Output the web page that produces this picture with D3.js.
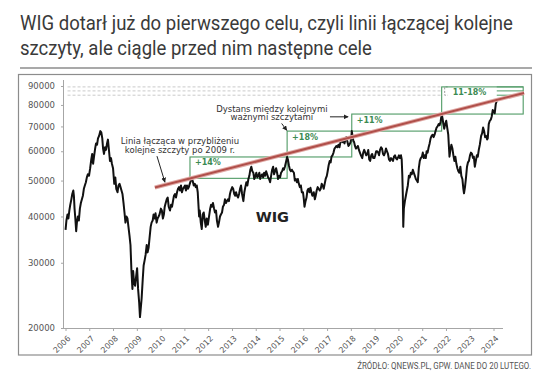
<!DOCTYPE html>
<html><head><meta charset="utf-8">
<script src="https://cdn.jsdelivr.net/npm/d3@7"></script>
<style>
body{margin:0;background:#fff;}
svg{display:block;}
</style></head><body>
<svg id="c" width="536" height="379"></svg>
<script>
const titleLines = ["WIG dotarł już do pierwszego celu, czyli linii łączącej kolejne", "szczyty, ale ciągle przed nim następne cele"];
const sourceText = "ŹRÓDŁO: QNEWS.PL, GPW. DANE DO 20 LUTEGO.";
const seriesName = "WIG";

const wigDates = [
"2006-01-02","2006-01-15","2006-02-01","2006-02-15","2006-03-01","2006-03-15","2006-04-01","2006-04-15","2006-05-01","2006-05-10","2006-05-20","2006-06-01","2006-06-14","2006-06-25","2006-07-10","2006-07-25","2006-08-10","2006-08-25","2006-09-10","2006-09-25","2006-10-10","2006-10-25","2006-11-10","2006-11-25","2006-12-10","2006-12-28",
"2007-01-15","2007-02-01","2007-02-15","2007-03-01","2007-03-15","2007-04-01","2007-04-15","2007-05-01","2007-05-15","2007-06-01","2007-06-20","2007-07-05","2007-07-20","2007-08-01","2007-08-15","2007-09-01","2007-09-15","2007-10-01","2007-10-15","2007-11-01","2007-11-15","2007-12-01","2007-12-15",
"2008-01-01","2008-01-20","2008-02-05","2008-02-20","2008-03-10","2008-03-25","2008-04-10","2008-04-25","2008-05-10","2008-05-25","2008-06-10","2008-06-25","2008-07-10","2008-07-25","2008-08-10","2008-08-25","2008-09-10","2008-09-25","2008-10-10","2008-10-25","2008-11-05","2008-11-20","2008-12-05","2008-12-20",
"2009-01-05","2009-01-20","2009-02-05","2009-02-18","2009-03-01","2009-03-15","2009-04-01","2009-04-15","2009-05-01","2009-05-15","2009-06-01","2009-06-15","2009-07-01","2009-07-15","2009-08-01","2009-08-15","2009-09-01","2009-09-15","2009-10-01","2009-10-15","2009-11-01","2009-11-15","2009-12-01","2009-12-15",
"2010-01-05","2010-01-20","2010-02-05","2010-02-20","2010-03-05","2010-03-20","2010-04-05","2010-04-20","2010-05-05","2010-05-25","2010-06-10","2010-06-25","2010-07-10","2010-07-25","2010-08-10","2010-08-25","2010-09-10","2010-09-25","2010-10-10","2010-10-25","2010-11-10","2010-11-25","2010-12-10","2010-12-28",
"2011-01-10","2011-01-25","2011-02-10","2011-02-25","2011-03-10","2011-03-25","2011-04-10","2011-04-25","2011-05-10","2011-05-25","2011-06-10","2011-06-25","2011-07-10","2011-07-25","2011-08-05","2011-08-15","2011-08-25","2011-09-10","2011-09-25","2011-10-10","2011-10-25","2011-11-10","2011-11-25","2011-12-10","2011-12-28",
"2012-01-15","2012-02-01","2012-02-15","2012-03-01","2012-03-15","2012-04-01","2012-04-15","2012-05-01","2012-05-15","2012-06-01","2012-06-15","2012-07-01","2012-07-15","2012-08-01","2012-08-15","2012-09-01","2012-09-15","2012-10-01","2012-10-15","2012-11-01","2012-11-15","2012-12-01","2012-12-15",
"2013-01-05","2013-01-20","2013-02-05","2013-02-20","2013-03-05","2013-03-20","2013-04-05","2013-04-20","2013-05-05","2013-05-20","2013-06-05","2013-06-25","2013-07-10","2013-07-25","2013-08-10","2013-08-25","2013-09-10","2013-09-25","2013-10-10","2013-10-25","2013-11-10","2013-11-25","2013-12-10","2013-12-28",
"2014-01-10","2014-01-25","2014-02-10","2014-02-25","2014-03-10","2014-03-25","2014-04-10","2014-04-25","2014-05-10","2014-05-25","2014-06-10","2014-06-25","2014-07-10","2014-07-25","2014-08-10","2014-08-25","2014-09-10","2014-09-25","2014-10-10","2014-10-25","2014-11-10","2014-11-25","2014-12-10","2014-12-28",
"2015-01-10","2015-01-25","2015-02-10","2015-02-25","2015-03-10","2015-03-25","2015-04-10","2015-04-28","2015-05-10","2015-05-25","2015-06-10","2015-06-25","2015-07-10","2015-07-25","2015-08-10","2015-08-25","2015-09-10","2015-09-25","2015-10-10","2015-10-25","2015-11-10","2015-11-25","2015-12-10","2015-12-28",
"2016-01-10","2016-01-20","2016-02-05","2016-02-20","2016-03-05","2016-03-20","2016-04-05","2016-04-20","2016-05-05","2016-05-20","2016-06-10","2016-06-27","2016-07-10","2016-07-25","2016-08-10","2016-08-25","2016-09-10","2016-09-25","2016-10-10","2016-10-25","2016-11-10","2016-11-25","2016-12-10","2016-12-28",
"2017-01-10","2017-01-25","2017-02-10","2017-02-25","2017-03-10","2017-03-25","2017-04-10","2017-04-25","2017-05-10","2017-05-25","2017-06-10","2017-06-25","2017-07-10","2017-07-25","2017-08-10","2017-08-25","2017-09-10","2017-09-25","2017-10-10","2017-10-25","2017-11-10","2017-11-25","2017-12-10","2017-12-28",
"2018-01-10","2018-01-15","2018-02-08","2018-02-20","2018-03-05","2018-03-20","2018-04-05","2018-04-20","2018-05-05","2018-05-20","2018-06-05","2018-06-25","2018-07-10","2018-07-25","2018-08-10","2018-08-25","2018-09-10","2018-09-25","2018-10-10","2018-10-25","2018-11-10","2018-11-25","2018-12-10","2018-12-28",
"2019-01-10","2019-01-25","2019-02-10","2019-02-25","2019-03-10","2019-03-25","2019-04-10","2019-04-25","2019-05-10","2019-05-25","2019-06-10","2019-06-25","2019-07-10","2019-07-25","2019-08-10","2019-08-25","2019-09-10","2019-09-25","2019-10-10","2019-10-25","2019-11-10","2019-11-25","2019-12-10","2019-12-28",
"2020-01-10","2020-01-25","2020-02-10","2020-02-21","2020-03-01","2020-03-09","2020-03-16","2020-03-25","2020-04-10","2020-04-25","2020-05-10","2020-05-25","2020-06-10","2020-06-25","2020-07-10","2020-07-25","2020-08-10","2020-08-25","2020-09-10","2020-09-25","2020-10-10","2020-10-25","2020-11-10","2020-11-25","2020-12-10","2020-12-28",
"2021-01-10","2021-01-25","2021-02-10","2021-02-25","2021-03-10","2021-03-25","2021-04-10","2021-04-25","2021-05-10","2021-05-25","2021-06-10","2021-06-25","2021-07-10","2021-07-25","2021-08-10","2021-08-25","2021-09-10","2021-09-25","2021-10-10","2021-10-27","2021-11-10","2021-11-22","2021-12-05","2021-12-20",
"2022-01-05","2022-01-20","2022-02-05","2022-02-24","2022-03-10","2022-03-25","2022-04-10","2022-04-25","2022-05-10","2022-05-25","2022-06-10","2022-06-25","2022-07-10","2022-07-25","2022-08-10","2022-08-25","2022-09-10","2022-09-25","2022-10-05","2022-10-20","2022-11-05","2022-11-20","2022-12-05","2022-12-20",
"2023-01-05","2023-01-20","2023-02-05","2023-02-20","2023-03-05","2023-03-20","2023-04-05","2023-04-20","2023-05-05","2023-05-20","2023-06-05","2023-06-25","2023-07-10","2023-07-25","2023-08-10","2023-08-25","2023-09-10","2023-09-25","2023-10-05","2023-10-20","2023-11-05","2023-11-20","2023-12-05","2023-12-20",
"2024-01-05","2024-01-20","2024-02-05","2024-02-20"];

const wigValues = [
36800,39000,40500,39500,41500,43000,44500,46000,47000,45500,42000,39500,36500,38500,40000,39000,42000,43500,44500,45500,47500,48500,49500,51000,52000,51500,
54000,57000,59000,55500,58000,61000,63000,62500,65000,66000,68000,67500,65000,61000,59000,61500,60500,63000,64500,60000,56500,57500,55500,
54000,49000,51000,47500,46500,48500,49000,48000,47000,46000,43500,41000,38500,40000,39500,37500,35500,33500,28500,25500,28500,26500,26000,27500,
29000,25500,23500,21400,22500,24000,27000,29500,30500,31500,33500,32000,33000,35000,37500,38500,39000,40500,39500,40800,38500,39500,40000,40500,
42000,41500,39500,40500,42500,43500,44500,45000,42500,41500,43000,42500,44000,45500,46000,45000,46500,47500,48000,47000,48500,46500,47500,48000,
48500,47000,48500,47500,48000,49000,50000,50700,49800,48500,49000,48000,48500,46500,43000,40000,41500,38500,37000,40500,41000,39000,37500,39500,38000,
40000,42000,43000,42500,43500,42000,41000,41500,39000,37500,38500,40000,40500,41000,42500,43000,44500,43500,44000,44500,44000,46000,47000,
48000,47500,46000,45500,46500,45500,45000,46000,47500,48500,46000,44000,46500,48000,49500,48500,50500,51500,53500,54500,53000,52500,50500,51500,
52500,51000,51500,52500,50500,51500,52000,51000,52500,51500,53000,52000,51000,50500,49500,51500,53500,54500,52000,53000,54000,52500,50500,51500,
51000,52500,53000,54000,53500,54500,56000,57900,57000,55000,53500,53000,53500,53000,52500,50000,50500,49500,50500,49000,48000,48500,46500,46500,
44500,42500,44000,45000,47000,47500,46500,47800,46500,45500,46500,44500,45500,47000,48000,47500,47000,47500,49000,48500,47500,49000,50500,51500,
53000,55000,56500,56000,58000,58500,59500,61000,61500,62000,61500,62500,61500,63500,64500,63500,64000,63000,64500,65500,63500,62000,62500,63500,
66000,68000,64000,63500,62000,61000,61500,62000,60500,59500,58500,57500,59500,60500,59500,58500,59000,60500,57000,56500,58500,59000,57500,57500,
58500,60000,60000,59500,58500,60500,61500,61000,59000,58500,59500,61000,60000,59000,57000,56500,57500,57000,56500,58000,58500,57500,57000,57800,
58500,57500,58500,57000,52000,46000,37500,42000,44000,45500,47000,48500,51500,51000,52500,52000,53500,52500,51500,50500,50000,49500,54000,56500,57500,58000,
59500,57500,58500,57500,60000,59500,61500,63000,65000,66000,66500,65500,66500,68000,69500,70000,71000,70500,72000,75600,73500,71000,69000,71000,
72500,69500,66500,58000,60500,62500,61000,58500,56500,58000,55500,54000,53000,52500,54500,51500,50500,47500,46200,48000,51000,54500,56000,56500,
58500,59500,59000,57500,58000,54500,56500,58500,58000,60500,62500,66000,67000,69500,68000,65500,66000,64500,65000,71000,72500,73000,74500,77500,
76500,76000,80500,82000];

const yTickValues = [20000, 30000, 40000, 50000, 60000, 70000, 80000, 90000];
const xTickYears = [2006,2007,2008,2009,2010,2011,2012,2013,2014,2015,2016,2017,2018,2019,2020,2021,2022,2023,2024];

const trendDates = ["2009-10-05", "2025-04-15"];
const trendValues = [47900, 86200];

const boxStarts = ["2011-03-28", "2015-04-28", "2018-01-15", "2021-10-27"];
const boxEnds   = ["2015-04-28", "2018-01-15", "2021-10-27", "2025-04-01"];
const boxLows   = [50700, 57900, 68000, 75600];
const boxHighs  = [57900, 68000, 75600, 89500];
const boxLabels = ["+14%", "+18%", "+11%", "11-18%"];

const targetLevels = [85000, 87300, 89500];
const targetLineStart = "2006-02-01";
const targetMarkStart = "2024-02-20";

const noteLines = [["Linia łącząca w przybliżeniu", "kolejne szczyty po 2009 r."], ["Dystans między kolejnymi", "ważnymi szczytami"]];
const noteDates = ["2010-10-25", "2014-09-06"];
const noteValues = [62600, 76700];

const arrowFromDates = ["2009-11-06", "2015-02-03", "2017-02-14"];
const arrowFromValues = [58200, 71300, 74300];
const arrowToDates = ["2010-03-08", "2015-04-24", "2017-11-20"];
const arrowToValues = [49500, 68300, 74300];

const wigLabelDate = "2014-01-01";
const wigLabelValue = 38600;

// ---------- drawing ----------
const svg = d3.select("#c");
const parse = d3.utcParse("%Y-%m-%d");
const data = wigDates.map((d, i) => ({date: parse(d), value: wigValues[i]}));

const x = d3.scaleUtc().domain([parse("2006-01-01"), parse("2024-01-01")]).range([65.5, 493.5]);
const y = d3.scaleLog().domain([20000, 90000]).range([328, 86]);

const GREEN = "#4e9a64", GREEN_TXT = "#3b8a52";
const TXT = "#333";
const NARROW = "'Liberation Sans Narrow', 'Arial Narrow', 'Roboto', sans-serif";

// squeeze a text horizontally (via transform) so that it has the wanted width
function fitWidth(sel, ax, ay, target, anchor) {
  sel.attr("x", 0).attr("y", 0);
  const w = sel.node().getComputedTextLength();
  const k = Math.min(1, target / w);
  sel.attr("text-anchor", anchor || "start").attr("transform", `translate(${ax},${ay}) scale(${k},1)`);
  return k;
}

// title
const t0 = svg.append("text").attr("font-family", NARROW).attr("font-size", 19.5).attr("fill", "#3a3a3a").text(titleLines[0]);
const kT = fitWidth(t0, 20, 29.5, 493);
svg.append("text").attr("font-family", NARROW).attr("font-size", 19.5).attr("fill", "#3a3a3a").text(titleLines[1])
  .attr("transform", `translate(20,55) scale(${kT},1)`);
svg.append("line").attr("x1", 20).attr("x2", 532).attr("y1", 68).attr("y2", 68)
  .attr("stroke", "#8c8c8c").attr("stroke-width", 1.5);

// frame
svg.append("rect").attr("x", 18.5).attr("y", 74.5).attr("width", 513).attr("height", 280.5)
  .attr("fill", "none").attr("stroke", "#8c8c8c").attr("stroke-width", 1.2);

// source
const src = svg.append("text").attr("font-family", NARROW).attr("font-size", 9).attr("fill", "#555").text(sourceText);
fitWidth(src, 531, 368.5, 174, "end");

// axes
const yAxis = d3.axisLeft(y).tickValues(yTickValues).tickFormat(d3.format("d")).tickSize(3).tickPadding(6);
const gy = svg.append("g").attr("transform", "translate(64,0)").call(yAxis);
gy.select(".domain").attr("d", `M-0.5,${y(90000) - 6}V${y(20000)}`);
gy.selectAll("path,line").attr("stroke", "#a6a6a6");
gy.selectAll("text").attr("font-family", "'DejaVu Sans', Verdana, sans-serif").attr("font-size", 8.5).attr("fill", "#555");

const xAxis = d3.axisBottom(x).tickValues(xTickYears.map(yr => parse(yr + "-01-01")))
  .tickFormat(d3.utcFormat("%Y")).tickSize(3).tickPadding(4);
const gx = svg.append("g").attr("transform", `translate(0,${y(20000)})`).call(xAxis);
gx.select(".domain").attr("d", "M64,0.5H503");
gx.selectAll("path,line").attr("stroke", "#a6a6a6");
gx.selectAll("text").attr("font-family", "'DejaVu Sans', Verdana, sans-serif").attr("font-size", 8).attr("fill", "#555")
  .attr("text-anchor", "end").attr("dy", "0.35em")
  .attr("transform", "translate(3,9) rotate(-45)").attr("y", 0).attr("x", 0);

// dashed target lines
const box4Start = parse(boxStarts[3]);
svg.append("g").selectAll("line").data(targetLevels).join("line")
  .attr("x1", x(parse(targetLineStart))).attr("x2", x(box4Start))
  .attr("y1", d => y(d)).attr("y2", d => y(d))
  .attr("stroke", "#c4c4c4").attr("stroke-dasharray", "3,2").attr("stroke-width", 0.9);
// bracket
{
  const bx = x(box4Start) + 3;
  svg.append("path")
    .attr("d", `M${bx + 3},${y(d3.max(targetLevels))}H${bx}V${y(d3.min(targetLevels))}H${bx + 3}`)
    .attr("fill", "none").attr("stroke", "#9a9a9a").attr("stroke-dasharray", "2,1.5").attr("stroke-width", 1);
}
// green target marks at right
svg.append("g").selectAll("line").data(targetLevels).join("line")
  .attr("x1", x(parse(targetMarkStart))).attr("x2", x(parse(boxEnds[3])))
  .attr("y1", d => y(d)).attr("y2", d => y(d))
  .attr("stroke", GREEN).attr("stroke-width", 1);

// boxes
const boxes = boxStarts.map((s, i) => ({s: parse(s), e: parse(boxEnds[i]), lo: boxLows[i], hi: boxHighs[i], label: boxLabels[i], i}));
svg.append("g").selectAll("rect").data(boxes).join("rect")
  .attr("x", d => x(d.s)).attr("y", d => y(d.hi))
  .attr("width", d => x(d.e) - x(d.s)).attr("height", d => y(d.lo) - y(d.hi))
  .attr("fill", "none").attr("stroke", GREEN).attr("stroke-width", 1.1);

// WIG line
const line = d3.line().x(d => x(d.date)).y(d => y(d.value));
svg.append("path").datum(data).attr("d", line)
  .attr("fill", "none").attr("stroke", "#111").attr("stroke-width", 2).attr("stroke-linejoin", "round");

// trend line
const trend = trendDates.map((d, i) => ({date: parse(d), value: trendValues[i]}));
svg.append("path").datum(trend).attr("d", line).attr("fill", "none").attr("stroke", "#e0aaa6").attr("stroke-width", 4);
svg.append("path").datum(trend).attr("d", line).attr("fill", "none").attr("stroke", "#b04f4a").attr("stroke-width", 2);

// box labels
svg.append("g").selectAll("text").data(boxes).join("text")
  .attr("x", d => x(d.s) + (d.i === 3 ? 11 : 5)).attr("y", d => y(d.hi) + 8.5)
  .attr("font-family", "'DejaVu Sans', Verdana, sans-serif").attr("font-weight", "bold")
  .attr("font-size", 8).attr("fill", GREEN_TXT).text(d => d.label);

// notes
noteLines.forEach((lines, i) => {
  const t = svg.append("text").attr("x", x(parse(noteDates[i]))).attr("y", y(noteValues[i]))
    .attr("text-anchor", "middle").attr("font-family", "'DejaVu Sans', Verdana, sans-serif")
    .attr("font-size", 8.5).attr("fill", TXT);
  lines.forEach((l, j) => t.append("tspan").attr("x", x(parse(noteDates[i]))).attr("dy", j ? "1.02em" : 0).text(l));
});

// arrows
svg.append("defs").append("marker").attr("id", "ah").attr("viewBox", "0 0 10 10")
  .attr("refX", 9).attr("refY", 5).attr("markerWidth", 5).attr("markerHeight", 5).attr("orient", "auto")
  .append("path").attr("d", "M0,0L10,5L0,10z").attr("fill", "#222");
svg.append("g").selectAll("line").data(arrowFromDates).join("line")
  .attr("x1", (d, i) => x(parse(d))).attr("y1", (d, i) => y(arrowFromValues[i]))
  .attr("x2", (d, i) => x(parse(arrowToDates[i]))).attr("y2", (d, i) => y(arrowToValues[i]))
  .attr("stroke", "#222").attr("stroke-width", 1).attr("marker-end", "url(#ah)");

// WIG label
svg.append("text").attr("x", x(parse(wigLabelDate))).attr("y", y(wigLabelValue))
  .attr("font-family", "'DejaVu Sans', Verdana, sans-serif").attr("font-weight", "bold")
  .attr("font-size", 14.5).attr("fill", "#222").text(seriesName);
</script>
</body></html>
